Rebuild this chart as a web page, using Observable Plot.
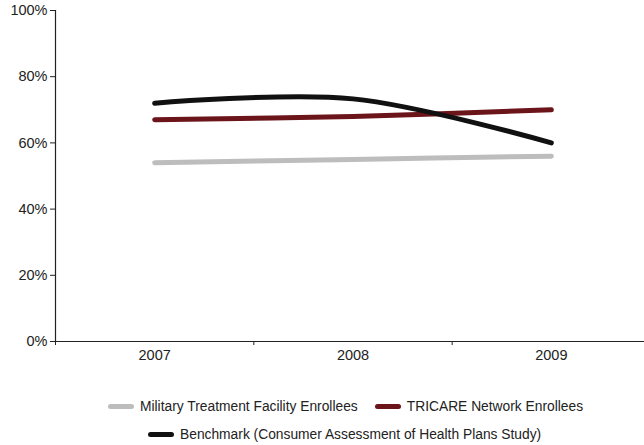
<!DOCTYPE html>
<html>
<head>
<meta charset="utf-8">
<script src="https://cdn.jsdelivr.net/npm/d3@7"></script>
<script src="https://cdn.jsdelivr.net/npm/@observablehq/plot@0.6"></script>
<style>
  html, body { margin: 0; padding: 0; background: #fff; overflow: hidden; }
  body { width: 644px; height: 445px; font-family: "Liberation Sans", Arial, sans-serif; }
  #legend { position: relative; width: 644px; font-size: 13.8px; color: #222; }
  .row { display: flex; justify-content: flex-start; align-items: center; height: 28px; }
  .item { display: flex; align-items: center; margin-right: 17px; white-space: nowrap; }
  .sw { width: 26px; height: 5px; border-radius: 3px; margin-right: 6px; }
</style>
</head>
<body>
<div id="chart"></div>
<div id="legend"></div>
<script>
const years = [2007, 2008, 2009];
const seriesNames = [
  "Military Treatment Facility Enrollees",
  "TRICARE Network Enrollees",
  "Benchmark (Consumer Assessment of Health Plans Study)"
];
const mtfValues = [54, 55, 56];
const tricareValues = [67, 68, 70];
const benchmarkValues = [72, 73.3, 60];
const colors = ["#bdbdbd", "#6b1419", "#111111"];
const yTicks = [0, 20, 40, 60, 80, 100];
const xBoundaries = [2006.5, 2007.5, 2008.5, 2009.5];

const allValues = [mtfValues, tricareValues, benchmarkValues];
const data = [];
seriesNames.forEach((s, i) => years.forEach((yr, j) => data.push({series: s, year: yr, value: allValues[i][j]})));

const plot = Plot.plot({
  width: 644,
  height: 371,
  marginTop: 10,
  marginBottom: 30,
  marginLeft: 55,
  marginRight: 0,
  style: {fontFamily: "'Liberation Sans', Arial, sans-serif", fontSize: "14px", color: "#222", overflow: "hidden"},
  x: {domain: [2006.5, 2009.5], range: [55, 650]},
  y: {domain: [0, 100]},
  color: {domain: seriesNames, range: colors},
  marks: [
    Plot.axisY({ticks: yTicks, tickSize: 5, tickPadding: 3, tickFormat: d => d + "%", label: null, fontSize: 14.5}),
    Plot.axisX({ticks: xBoundaries, tickSize: 4, tickFormat: () => "", label: null}),
    Plot.axisX({ticks: years, tickSize: 0, tickPadding: 8, tickFormat: d => String(d), label: null, fontSize: 14.5}),
    Plot.ruleY([0], {stroke: "#222", strokeWidth: 1.2}),
    Plot.ruleX([2006.5], {stroke: "#222", strokeWidth: 1.2}),
    Plot.line(data, {x: "year", y: "value", z: "series", stroke: "series", strokeWidth: 5, curve: "catmull-rom", strokeLinecap: "round"})
  ]
});
document.getElementById("chart").appendChild(plot);

const legend = document.getElementById("legend");
legend.style.marginTop = "21px";
const rows = [[0, 1], [2]];
const rowStarts = ["108px", "148px"];
rows.forEach((r, k) => {
  const row = document.createElement("div");
  row.className = "row";
  row.style.paddingLeft = rowStarts[k];
  r.forEach(i => {
    const it = document.createElement("div");
    it.className = "item";
    const sw = document.createElement("span");
    sw.className = "sw";
    sw.style.background = colors[i];
    const tx = document.createElement("span");
    tx.textContent = seriesNames[i];
    it.appendChild(sw); it.appendChild(tx);
    row.appendChild(it);
  });
  legend.appendChild(row);
});
</script>
</body>
</html>
